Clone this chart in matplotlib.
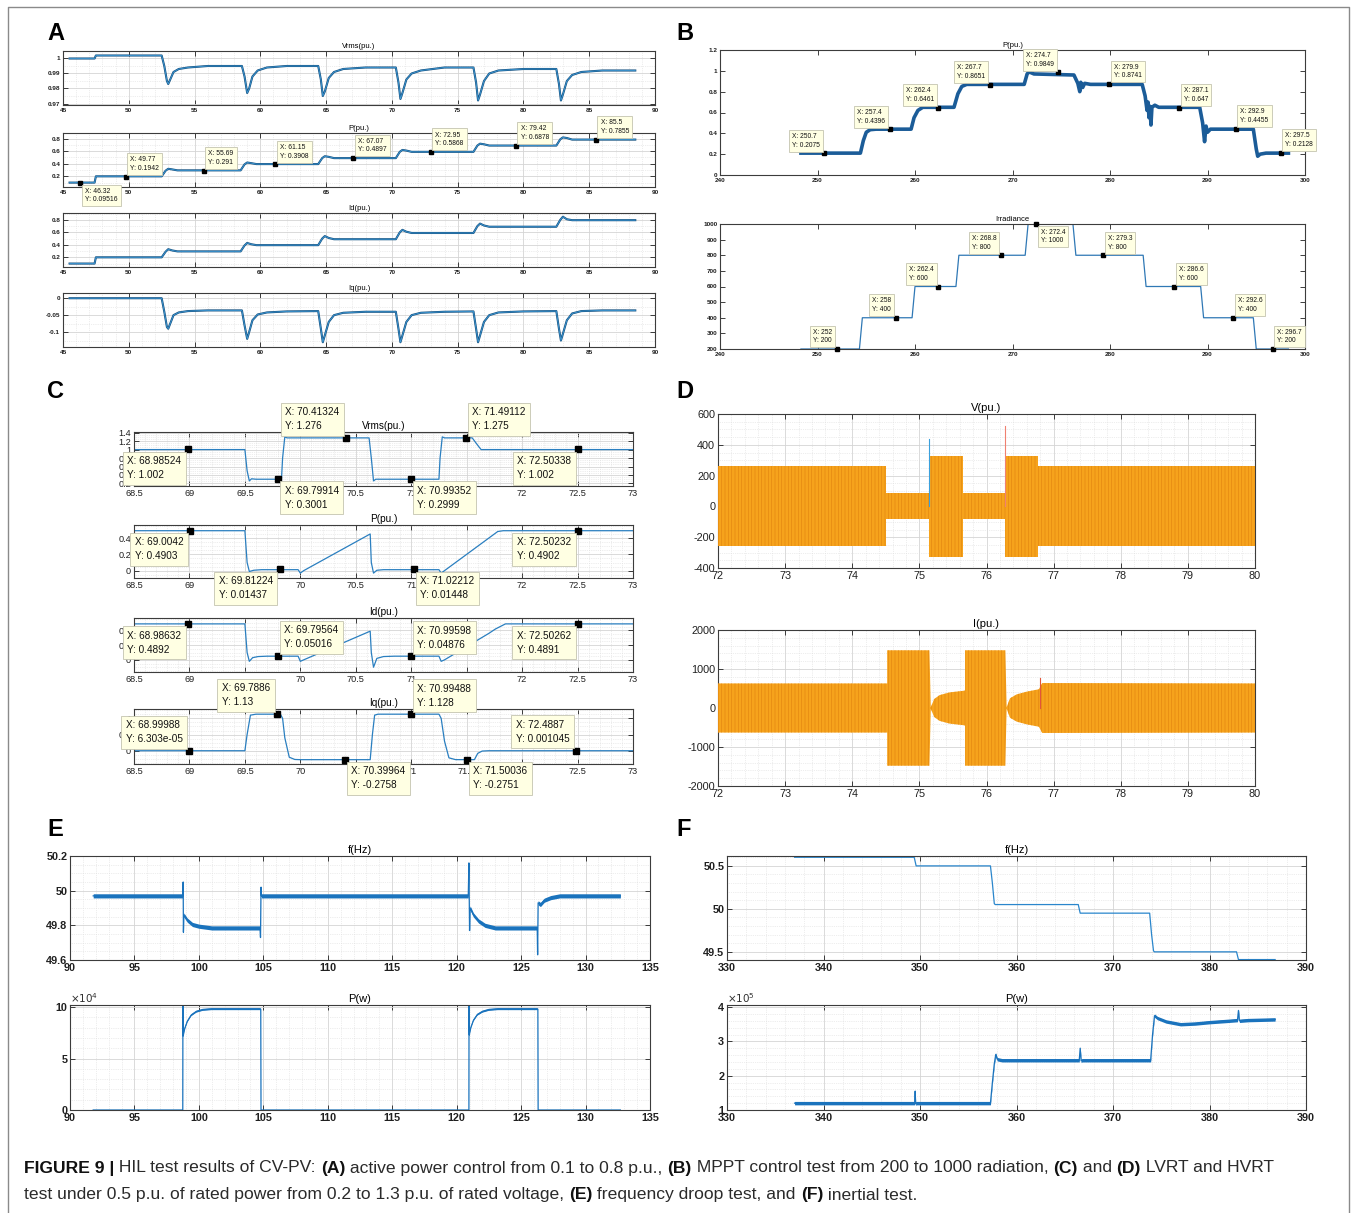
import numpy as np
import matplotlib
matplotlib.use('Agg')
import matplotlib.pyplot as plt
from matplotlib.ticker import AutoMinorLocator

plt.rcParams['font.family'] = ['Liberation Sans', 'DejaVu Sans']
plt.rcParams['hatch.linewidth'] = 0.4

W, H = 1356, 1213
fig = plt.figure(figsize=(W / 100, H / 100), dpi=100)

# ---------------- data: panel A (active power control) ----------------
A_t_vrms = [45.5, 47.4, 47.5, 52.5, 52.7, 52.9, 53.0, 53.15, 53.4, 53.8, 54.5, 56.0, 58.6,
            58.8, 59.0, 59.15, 59.4, 59.8, 60.5, 62.0, 64.4,
            64.6, 64.75, 64.9, 65.2, 65.6, 66.3, 68.0, 70.3,
            70.5, 70.65, 70.8, 71.1, 71.5, 72.2, 74.0, 76.2,
            76.4, 76.55, 76.7, 77.0, 77.4, 78.1, 80.0, 82.5,
            82.7, 82.85, 83.0, 83.3, 83.7, 84.4, 86.0, 88.5]
A_vrms = [1.000, 1.000, 1.002, 1.002, 0.995, 0.985, 0.983, 0.986, 0.991, 0.993, 0.994, 0.995, 0.995,
          0.988, 0.977, 0.980, 0.988, 0.992, 0.994, 0.995, 0.995,
          0.986, 0.975, 0.978, 0.987, 0.991, 0.993, 0.994, 0.994,
          0.984, 0.973, 0.977, 0.986, 0.990, 0.992, 0.994, 0.994,
          0.984, 0.972, 0.976, 0.985, 0.990, 0.992, 0.993, 0.993,
          0.983, 0.972, 0.976, 0.985, 0.989, 0.991, 0.992, 0.992]

A_t_p = [45.5, 47.4, 47.5, 52.5, 52.8, 53.0, 53.3, 53.7, 58.5, 58.8, 59.0, 59.3, 59.7,
         64.4, 64.7, 64.9, 65.2, 65.6, 70.3, 70.6, 70.8, 71.1, 71.5,
         76.2, 76.5, 76.7, 77.0, 77.4, 82.5, 82.8, 83.0, 83.3, 83.7, 88.5]
A_p = [0.1, 0.1, 0.2, 0.2, 0.29, 0.32, 0.31, 0.295, 0.295, 0.39, 0.42, 0.41, 0.395,
       0.395, 0.49, 0.52, 0.51, 0.49, 0.49, 0.59, 0.62, 0.61, 0.59,
       0.59, 0.69, 0.72, 0.71, 0.69, 0.69, 0.79, 0.82, 0.81, 0.785, 0.785]
A_id = [0.1, 0.1, 0.2, 0.2, 0.29, 0.33, 0.31, 0.295, 0.295, 0.39, 0.43, 0.41, 0.395,
        0.395, 0.50, 0.54, 0.51, 0.49, 0.49, 0.60, 0.64, 0.61, 0.59,
        0.59, 0.70, 0.74, 0.71, 0.69, 0.69, 0.80, 0.85, 0.81, 0.795, 0.795]

A_t_iq = [45.5, 52.5, 52.7, 52.9, 53.0, 53.15, 53.4, 53.8, 54.5, 56.0, 58.6,
          58.8, 59.0, 59.15, 59.4, 59.8, 60.5, 62.0, 64.4,
          64.6, 64.75, 64.9, 65.2, 65.6, 66.3, 68.0, 70.3,
          70.5, 70.65, 70.8, 71.1, 71.5, 72.2, 74.0, 76.2,
          76.4, 76.55, 76.7, 77.0, 77.4, 78.1, 80.0, 82.5,
          82.7, 82.85, 83.0, 83.3, 83.7, 84.4, 86.0, 88.5]
A_iq = [0.0, 0.0, -0.04, -0.085, -0.09, -0.075, -0.05, -0.042, -0.038, -0.036, -0.036,
        -0.08, -0.12, -0.10, -0.065, -0.048, -0.042, -0.039, -0.038,
        -0.09, -0.13, -0.11, -0.07, -0.05, -0.043, -0.040, -0.040,
        -0.09, -0.13, -0.11, -0.07, -0.05, -0.043, -0.040, -0.039,
        -0.09, -0.13, -0.11, -0.07, -0.05, -0.042, -0.039, -0.038,
        -0.09, -0.125, -0.105, -0.065, -0.045, -0.038, -0.036, -0.036]

A_tip_x = [46.32, 49.77, 55.69, 61.15, 67.07, 72.95, 79.42, 85.5]
A_tip_y = [0.09516, 0.1942, 0.291, 0.3908, 0.4897, 0.5868, 0.6878, 0.7855]

# ---------------- data: panel B (MPPT) ----------------
B_t_p = [248.3, 254.4, 254.7, 255.0, 255.4, 256.0, 259.6, 259.9, 260.3, 260.8, 264.0, 264.4, 264.8,
         265.3, 271.2, 271.5, 271.7, 272.2, 276.3, 276.7, 276.9, 277.0, 277.2, 277.4, 278.0,
         283.3, 283.6, 283.8, 283.9, 284.0, 284.1, 284.2, 284.3, 284.6, 285.0, 289.2, 289.5,
         289.7, 289.85, 290.0, 290.3, 294.7, 295.0, 295.15, 295.4, 296.0, 298.3]
B_p = [0.21, 0.21, 0.33, 0.41, 0.435, 0.44, 0.44, 0.55, 0.62, 0.65, 0.65, 0.78, 0.85,
       0.87, 0.87, 0.97, 0.99, 0.97, 0.96, 0.88, 0.80, 0.89, 0.84, 0.88, 0.87,
       0.87, 0.76, 0.62, 0.70, 0.55, 0.66, 0.48, 0.65, 0.67, 0.65, 0.65, 0.50,
       0.32, 0.47, 0.41, 0.44, 0.44, 0.25, 0.18, 0.20, 0.21, 0.21]
B_t_irr = [248.3, 254.3, 254.6, 259.7, 260.0, 264.2, 264.5, 271.3, 271.6, 276.2, 276.5,
           283.4, 283.7, 289.3, 289.6, 294.7, 295.0, 298.3]
B_irr = [200, 200, 400, 400, 600, 600, 800, 800, 1000, 1000, 800, 800, 600, 600, 400, 400, 200, 200]
B_tip_px = [250.7, 257.4, 262.4, 267.7, 274.7, 279.9, 287.1, 292.9, 297.5]
B_tip_py = [0.2075, 0.4396, 0.6461, 0.8651, 0.9849, 0.8741, 0.647, 0.4455, 0.2128]
B_tip_ix = [252, 258, 262.4, 268.8, 272.4, 279.3, 286.6, 292.6, 296.7]
B_tip_iy = [200, 400, 600, 800, 1000, 800, 600, 400, 200]

# ---------------- data: panel C (LVRT / HVRT) ----------------
C_t_v = [68.5, 69.5, 69.52, 69.54, 69.56, 69.6, 69.83, 69.84, 69.86, 69.88, 70.62, 70.64, 70.66,
         70.68, 71.25, 71.26, 71.28, 71.3, 71.55, 71.6, 71.63, 73.0]
C_v = [1.0, 1.0, 0.5, 0.26, 0.31, 0.3, 0.3, 0.8, 1.3, 1.276, 1.276, 0.8, 0.26,
       0.3, 0.3, 0.8, 1.3, 1.276, 1.276, 1.1, 1.0, 1.0]
C_t_p = [68.5, 69.5, 69.52, 69.54, 69.58, 69.65, 69.98, 70.0, 70.03, 70.63, 70.64, 70.66, 70.69,
         70.75, 71.25, 71.27, 71.3, 71.78, 71.83, 73.0]
C_p = [0.49, 0.49, 0.1, -0.01, 0.005, 0.012, 0.012, -0.03, 0.0, 0.45, 0.1, -0.03, 0.005,
       0.012, 0.012, -0.03, 0.0, 0.48, 0.49, 0.49]
C_t_id = [68.5, 69.5, 69.52, 69.54, 69.57, 69.62, 69.7, 69.98, 70.0, 70.03, 70.63, 70.64, 70.66,
          70.69, 70.75, 70.85, 71.25, 71.27, 71.3, 71.7, 71.76, 71.85, 73.0]
C_id = [0.489, 0.489, 0.1, -0.02, 0.03, 0.045, 0.05, 0.05, -0.02, 0.0, 0.39, 0.1, -0.1,
        0.02, 0.045, 0.05, 0.05, -0.02, 0.0, 0.36, 0.42, 0.489, 0.489]
C_t_iq = [68.5, 69.5, 69.52, 69.55, 69.6, 69.82, 69.84, 69.86, 69.9, 69.95, 70.0, 70.63, 70.65,
          70.67, 70.7, 71.25, 71.27, 71.3, 71.34, 71.4, 71.57, 71.6, 71.64, 71.7, 73.0]
C_iq = [0.0, 0.0, 0.5, 1.10, 1.13, 1.13, 1.0, 0.4, -0.2, -0.27, -0.276, -0.276, 0.5,
        1.1, 1.13, 1.13, 1.0, 0.3, -0.22, -0.275, -0.275, -0.08, -0.01, 0.0, 0.0]
C_tip_v = [(68.98524, 1.002), (70.41324, 1.276), (69.79914, 0.3001), (70.99352, 0.2999),
           (71.49112, 1.275), (72.50338, 1.002)]
C_tip_p = [(69.0042, 0.4903), (69.81224, 0.01437), (71.02212, 0.01448), (72.50232, 0.4902)]
C_tip_id = [(68.98632, 0.4892), (69.79564, 0.05016), (70.99598, 0.04876), (72.50262, 0.4891)]
C_tip_iq = [(68.99988, 6.303e-05), (69.7886, 1.13), (70.99488, 1.128), (70.39964, -0.2758),
            (71.50036, -0.2751), (72.4887, 0.001045)]

# ---------------- data: panel D (three-phase envelopes) ----------------
D_t_v = [72, 74.5, 74.5, 75.15, 75.15, 75.65, 75.65, 76.27, 76.27, 76.77, 76.77, 80]
D_v_env = [260, 260, 85, 85, 330, 330, 85, 85, 330, 330, 260, 260]
D_v_spike_t = [75.15, 76.27]
D_v_spike = [435, 525]
D_t_i = [72, 74.52, 74.52, 75.15, 75.17, 75.22, 75.3, 75.45, 75.65, 75.68, 75.68, 76.28, 76.3,
         76.35, 76.45, 76.6, 76.78, 76.83, 80]
D_i_env = [630, 630, 1480, 1480, 20, 230, 330, 400, 440, 450, 1480, 1480, 20,
           250, 350, 420, 480, 640, 630]
D_i_spike_t = [76.8]
D_i_spike = [780]

# ---------------- data: panel E (frequency droop) ----------------
E_t_f = [91.8, 98.75, 98.78, 98.8, 98.83, 99.1, 99.5, 100.0, 101.0, 104.75, 104.78, 104.82, 104.85,
         120.9, 120.95, 121.0, 121.05, 121.3, 121.7, 122.2, 123.0, 126.25, 126.28, 126.32, 126.5,
         126.8, 127.3, 128.0, 132.7]
E_f = [49.97, 49.97, 50.05, 49.76, 49.86, 49.83, 49.805, 49.795, 49.785, 49.785, 49.73, 50.02, 49.97,
       49.97, 50.16, 49.77, 49.90, 49.86, 49.825, 49.80, 49.785, 49.785, 49.63, 49.93, 49.92,
       49.945, 49.96, 49.97, 49.97]
E_t_p = [91.8, 98.75, 98.76, 98.78, 98.9, 99.1, 99.4, 99.8, 100.3, 101.0, 104.8, 104.82,
         120.95, 120.96, 120.98, 121.1, 121.3, 121.6, 122.0, 122.5, 123.2, 126.3, 126.32, 132.7]
E_p = [0, 0, 103000, 72000, 79000, 86000, 92000, 95500, 97300, 98000, 98000, 0,
       0, 103000, 73000, 80000, 87000, 92500, 95500, 97300, 98000, 98000, 0, 0]

# ---------------- data: panel F (inertial test) ----------------
F_t_f = [337, 349.4, 349.6, 357.3, 357.5, 357.7, 357.8, 366.4, 366.6, 373.8, 374.0, 374.2, 374.3,
         382.8, 383.0, 386.8]
F_f = [50.6, 50.6, 50.5, 50.5, 50.3, 50.06, 50.05, 50.05, 49.95, 49.95, 49.7, 49.51, 49.5,
       49.5, 49.41, 49.41]
F_t_p = [337, 349.45, 349.5, 349.55, 349.6, 357.3, 357.5, 357.7, 357.85, 358.0, 358.5, 366.5, 366.6,
         366.7, 366.8, 373.9, 374.1, 374.3, 374.6, 375.5, 377, 378.5, 380, 382, 382.9, 383.0, 383.1,
         384, 386.8]
F_p = [120000, 120000, 155000, 118000, 120000, 120000, 180000, 235000, 262000, 248000, 245000, 245000,
       280000, 243000, 245000, 245000, 320000, 375000, 368000, 358000, 350000, 352000, 356000,
       360000, 362000, 390000, 360000, 362000, 364000]


# ---------------- helpers ----------------
def px_ax(l, t, r, b):
    return fig.add_axes([l / W, 1 - b / H, (r - l) / W, (b - t) / H])


def style(ax, fs, xt, yt, ylab, xlab=None, bold=False, grid=True, xmin=5, ymin=5):
    ax.set_xticks(xt)
    ax.set_xticklabels(xlab if xlab else [str(v) for v in xt])
    ax.set_yticks(yt)
    ax.set_yticklabels(ylab)
    ax.tick_params(direction='in', top=True, right=True, length=3.5, width=0.6,
                   labelsize=fs, pad=2, colors='#202020')
    ax.tick_params(which='minor', length=0)
    for s in ax.spines.values():
        s.set_color('#3c3c3c')
        s.set_linewidth(0.8)
    if bold:
        plt.setp(ax.get_xticklabels() + ax.get_yticklabels(), fontweight='bold')
    if grid:
        ax.xaxis.set_minor_locator(AutoMinorLocator(xmin))
        ax.yaxis.set_minor_locator(AutoMinorLocator(ymin))
        ax.grid(True, which='major', color='#d4d4d4', lw=0.6)
        ax.grid(True, which='minor', color='#dcdcdc', lw=0.5, ls=':')
    ax.set_axisbelow(True)


def tip(ax, x, y, side, fs, ms, off=3.0, ls=1.35):
    sx = -1 if side[1] == 'l' else 1
    sy = 1 if side[0] == 'u' else -1
    ax.plot([x], [y], 's', color='k', ms=ms, zorder=7, clip_on=False)
    ax.annotate('X: %s\nY: %s' % (x, y), xy=(x, y),
                xytext=(sx * (off + fs * 0.45), sy * (off + fs * 0.45)), textcoords='offset points',
                ha='left' if sx > 0 else 'right', va='bottom' if sy > 0 else 'top',
                multialignment='left', fontsize=fs, linespacing=ls, color='#111111',
                bbox=dict(boxstyle='square,pad=0.45', fc='#FFFFE3', ec='#c4c4b0', lw=0.6),
                zorder=8, annotation_clip=False)


def letter(x, y, s):
    fig.text(x / W, 1 - y / H, s, fontsize=17, fontweight='bold', va='center', ha='left')


# ---------------- panel A ----------------
letter(47, 33, 'A')
xA = list(range(45, 91, 5))
axA = [px_ax(63, 51, 655, 105), px_ax(63, 133, 655, 187), px_ax(63, 213, 655, 267), px_ax(63, 293, 655, 347)]
A_series = [(A_t_vrms, A_vrms), (A_t_p, A_p), (A_t_p, A_id), (A_t_iq, A_iq)]
A_titles = ['Vrms(pu.)', 'P(pu.)', 'Id(pu.)', 'Iq(pu.)']
A_yt = [[0.97, 0.98, 0.99, 1], [0.2, 0.4, 0.6, 0.8], [0.2, 0.4, 0.6, 0.8], [-0.1, -0.05, 0]]
A_yl = [['0.97', '0.98', '0.99', '1'], ['0.2', '0.4', '0.6', '0.8'], ['0.2', '0.4', '0.6', '0.8'],
        ['-0.1', '-0.05', '0']]
A_ylim = [(0.969, 1.005), (0.03, 0.89), (0.045, 0.91), (-0.144, 0.0154)]
for ax, (t, y), ttl, yt, yl, lim in zip(axA, A_series, A_titles, A_yt, A_yl, A_ylim):
    ax.plot(t, y, color='#15507f', lw=1.5)
    ax.plot(t, y, color='#3f9ad6', lw=0.6)
    ax.set_xlim(45, 90)
    ax.set_ylim(*lim)
    style(ax, 4.6, xA, yt, yl, bold=True, ymin=2)
    ax.set_title(ttl, fontsize=5.5, pad=2.2)
A_side = ['lr', 'ur', 'ur', 'ur', 'ur', 'ur', 'ur', 'ur']
for x, y, sd in zip(A_tip_x, A_tip_y, A_side):
    tip(axA[1], x, y, sd, 4.9, 3.2, off=1.2)

# ---------------- panel B ----------------
letter(676, 33, 'B')
xB = list(range(240, 301, 10))
axB1 = px_ax(720, 50, 1305, 175)
axB1.plot(B_t_p, B_p, color='#1b5c98', lw=2.6)
axB1.set_xlim(240, 300)
axB1.set_ylim(0, 1.2)
style(axB1, 4.6, xB, [0, 0.2, 0.4, 0.6, 0.8, 1, 1.2], ['0', '0.2', '0.4', '0.6', '0.8', '1', '1.2'],
      bold=True, grid=False)
axB1.set_title('P(pu.)', fontsize=5.5, pad=2.2)
B_side_p = ['ul', 'ul', 'ul', 'ul', 'ul', 'ur', 'ur', 'ur', 'ur']
for x, y, sd in zip(B_tip_px, B_tip_py, B_side_p):
    tip(axB1, x, y, sd, 4.8, 3.2, off=1.2)

axB2 = px_ax(720, 224, 1305, 349)
axB2.plot(B_t_irr, B_irr, color='#2f78b5', lw=0.9)
axB2.set_xlim(240, 300)
axB2.set_ylim(200, 1000)
yB2 = list(range(200, 1001, 100))
style(axB2, 4.6, xB, yB2, [str(v) for v in yB2], bold=True, grid=False)
axB2.set_title('Irradiance', fontsize=5.5, pad=2.2)
B_side_i = ['ul', 'ul', 'ul', 'ul', 'lr', 'ur', 'ur', 'ur', 'ur']
for x, y, sd in zip(B_tip_ix, B_tip_iy, B_side_i):
    tip(axB2, x, y, sd, 4.8, 3.2, off=1.2)

# ---------------- panel C ----------------
letter(47, 391, 'C')
xC = [68.5, 69, 69.5, 70, 70.5, 71, 71.5, 72, 72.5, 73]
# labels fully hidden under datatips in the original are left blank
C_xl = [['68.5', '69', '69.5', '', '70.5', '71', '', '72', '72.5', '73'],
        ['68.5', '69', '', '70', '70.5', '71', '', '72', '72.5', '73'],
        ['68.5', '69', '', '70', '70.5', '71', '', '72', '72.5', '73'],
        ['68.5', '69', '69.5', '70', '70.5', '71', '71.5', '72', '72.5', '73']]
axC = [px_ax(134, 432, 633, 486), px_ax(134, 525, 633, 578), px_ax(134, 618, 633, 672), px_ax(134, 709, 633, 764)]
C_series = [(C_t_v, C_v), (C_t_p, C_p), (C_t_id, C_id), (C_t_iq, C_iq)]
C_titles = ['Vrms(pu.)', 'P(pu.)', 'Id(pu.)', 'Iq(pu.)']
C_yt = [[0.2, 0.4, 0.6, 0.8, 1, 1.2, 1.4], [0, 0.2, 0.4], [0, 0.2, 0.4], [0, 0.5, 1]]
C_yl = [['0.2', '0.4', '0.6', '0.8', '1', '1.2', '1.4'], ['0', '0.2', '0.4'], ['0', '0.2', '0.4'],
        ['0', '0.5', '1']]
C_ylim = [(0.14, 1.415), (-0.09, 0.56), (-0.165, 0.569), (-0.41, 1.29)]
C_tips = [C_tip_v, C_tip_p, C_tip_id, C_tip_iq]
C_sides = [['ll', 'ul', 'lr', 'lr', 'ur', 'll'], ['ll', 'll', 'lr', 'll'], ['ll', 'ur', 'ur', 'll'],
           ['ul', 'ul', 'ur', 'lr', 'lr', 'ul']]
for ax, (t, y), ttl, yt, yl, xl, lim, tips, sides in zip(axC, C_series, C_titles, C_yt, C_yl, C_xl,
                                                          C_ylim, C_tips, C_sides):
    ax.plot(t, y, color='#2a7fc0', lw=0.9)
    ax.set_xlim(68.5, 73)
    ax.set_ylim(*lim)
    style(ax, 6.6, xC, yt, yl, xlab=xl, xmin=5, ymin=4)
    ax.set_title(ttl, fontsize=7.2, pad=2)
    for (x, y2), sd in zip(tips, sides):
        tip(ax, x, y2, sd, 7.2, 4.2, off=1.6, ls=1.5)

# ---------------- panel D ----------------
letter(676, 391, 'D')
xD = list(range(72, 81))
axD1 = px_ax(718, 414, 1255, 568)
env = np.array(D_v_env)
axD1.fill_between(D_t_v, -env, env, color='#F6A31C', edgecolor='#E0820E', hatch='|||||', lw=0, zorder=3)
for ts, sp, c in zip(D_v_spike_t, D_v_spike, ['#3aa0dc', '#f08070']):
    axD1.plot([ts, ts], [0, sp], color=c, lw=0.8, zorder=3)
axD1.set_xlim(72, 80)
axD1.set_ylim(-400, 600)
yD1 = list(range(-400, 601, 200))
style(axD1, 7.8, xD, yD1, [str(v) for v in yD1], xmin=5, ymin=4)
axD1.set_title('V(pu.)', fontsize=8, pad=2)

axD2 = px_ax(718, 630, 1255, 786)
env = np.array(D_i_env)
axD2.fill_between(D_t_i, -env, env, color='#F6A31C', edgecolor='#E0820E', hatch='|||||', lw=0, zorder=3)
for ts, sp in zip(D_i_spike_t, D_i_spike):
    axD2.plot([ts, ts], [0, sp], color='#e2553a', lw=0.8, zorder=3)
axD2.set_xlim(72, 80)
axD2.set_ylim(-2000, 2000)
yD2 = list(range(-2000, 2001, 1000))
style(axD2, 7.8, xD, yD2, [str(v) for v in yD2], xmin=5, ymin=5)
axD2.set_title('I(pu.)', fontsize=8, pad=2)

# ---------------- panel E ----------------
letter(47, 830, 'E')
xE = list(range(90, 136, 5))
axE1 = px_ax(70, 856, 650, 960)
fE = np.array(E_f)
axE1.fill_between(E_t_f, fE - 0.012, fE + 0.012, color='#1a73bd', lw=0)
axE1.plot(E_t_f, E_f, color='#1a73bd', lw=0.9)
axE1.set_xlim(90, 135)
axE1.set_ylim(49.6, 50.2)
style(axE1, 7.8, xE, [49.6, 49.8, 50, 50.2], ['49.6', '49.8', '50', '50.2'], bold=True, xmin=5, ymin=4)
axE1.set_title('f(Hz)', fontsize=8, pad=2)

axE2 = px_ax(70, 1005, 650, 1110)
pE = np.array(E_p) / 1e4
axE2.fill_between(E_t_p, pE - 0.1, pE + 0.1, where=pE > 0, color='#1a73bd', lw=0)
axE2.plot(E_t_p, pE, color='#1a73bd', lw=0.9)
axE2.set_xlim(90, 135)
axE2.set_ylim(0, 10.2)
style(axE2, 7.8, xE, [0, 5, 10], ['0', '5', '10'], bold=True, xmin=5, ymin=5)
axE2.set_title('P(w)', fontsize=8, pad=2)
fig.text(70 / W, 1 - 998 / H, r'$\times10^4$', fontsize=7.5, color='#303030', va='center')

# ---------------- panel F ----------------
letter(676, 830, 'F')
xF = list(range(330, 391, 10))
axF1 = px_ax(727, 856, 1306, 960)
axF1.plot(F_t_f, F_f, color='#2a86cc', lw=0.9)
axF1.set_xlim(330, 390)
axF1.set_ylim(49.405, 50.615)
style(axF1, 7.8, xF, [49.5, 50, 50.5], ['49.5', '50', '50.5'], bold=True, xmin=5, ymin=5)
axF1.set_title('f(Hz)', fontsize=8, pad=2)

axF2 = px_ax(727, 1005, 1306, 1110)
pF = np.array(F_p) / 1e5
axF2.fill_between(F_t_p, pF - 0.05, pF + 0.05, color='#1a73bd', lw=0)
axF2.plot(F_t_p, pF, color='#1a73bd', lw=0.9)
axF2.set_xlim(330, 390)
axF2.set_ylim(1, 4.06)
style(axF2, 7.8, xF, [1, 2, 3, 4], ['1', '2', '3', '4'], bold=True, xmin=5, ymin=5)
axF2.set_title('P(w)', fontsize=8, pad=2)
fig.text(727 / W, 1 - 998 / H, r'$\times10^5$', fontsize=7.5, color='#303030', va='center')

# ---------------- frame and caption ----------------
frame = fig.add_axes([0, 0, 1, 1], facecolor='none', zorder=-5)
frame.set_xlim(0, W)
frame.set_ylim(H, 0)
frame.axis('off')
frame.plot([8, 8, 1349, 1349], [H, 7, 7, H], color='#8a8a8a', lw=1.0)

renderer = fig.canvas.get_renderer()


def text_width(s, size, weight):
    a = fig.text(0, 0, 'x' + s + 'x', fontsize=size, fontweight=weight)
    b = fig.text(0, 0, 'xx', fontsize=size, fontweight=weight)
    w = a.get_window_extent(renderer).width - b.get_window_extent(renderer).width
    a.remove()
    b.remove()
    return w


def rich_line(x, y, parts, size):
    for s, bold in parts:
        wt = 'bold' if bold else 'normal'
        fig.text(x / W, 1 - y / H, s, fontsize=size, fontweight=wt, va='center', ha='left',
                 color='#111111' if bold else '#2a2a2a')
        x += text_width(s, size, wt)


cap1 = [('FIGURE 9 |', True), (' HIL test results of CV-PV: ', False), ('(A)', True),
        (' active power control from 0.1 to 0.8 p.u., ', False), ('(B)', True),
        (' MPPT control test from 200 to 1000 radiation, ', False), ('(C)', True), (' and ', False),
        ('(D)', True), (' LVRT and HVRT', False)]
cap2 = [('test under 0.5 p.u. of rated power from 0.2 to 1.3 p.u. of rated voltage, ', False),
        ('(E)', True), (' frequency droop test, and ', False), ('(F)', True), (' inertial test.', False)]
rich_line(24, 1168, cap1, 12.6)
rich_line(24, 1195, cap2, 12.6)

fig.savefig('out.png', dpi=100)
